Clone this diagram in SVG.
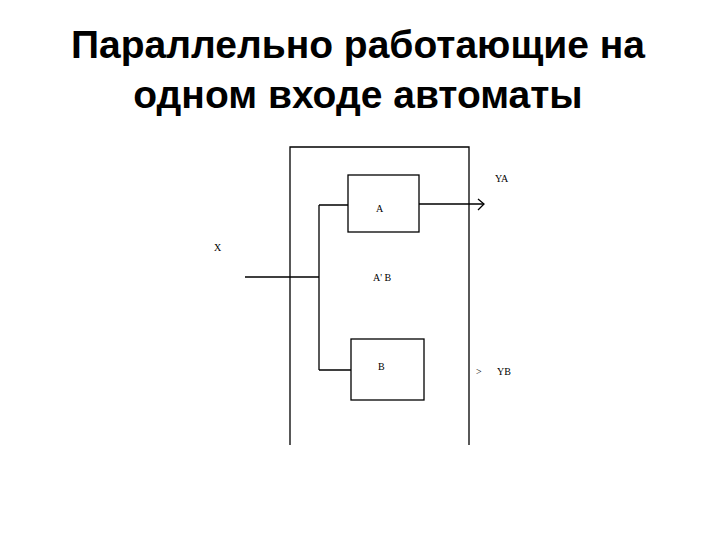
<svg xmlns="http://www.w3.org/2000/svg" width="720" height="540" viewBox="0 0 720 540">
<style>
.t{font-family:"Liberation Sans",Arial,sans-serif;font-size:39px;font-weight:bold;text-anchor:middle}
.s{font-family:"Liberation Serif","Times New Roman",serif;font-size:10px}
.l{stroke:#000;stroke-width:1.3;fill:none}
</style>
<rect width="720" height="540" fill="#fff"/>
<text class="t" x="358" y="58">Параллельно работающие на</text>
<text class="t" x="358" y="108">одном входе автоматы</text>
<g id="frame"><path class="l" d="M290,445 V147 H469 V445"/></g>
<g id="nodeA"><rect class="l" x="348" y="175" width="71" height="57"/><text class="s" x="376" y="212">A</text></g>
<g id="nodeB"><rect class="l" x="351" y="339" width="73" height="61"/><text class="s" x="378" y="370">B</text></g>
<g id="connectors">
<path class="l" d="M245,277 H319 M319,205 V370 M319,205 H348 M319,370 H351 M419,204 H484"/>
<path class="l" d="M478,199 L484,204 L478,210"/>
</g>
<g id="labels">
<text class="s" x="214" y="251">X</text>
<text class="s" x="373" y="281">A' B</text>
<text class="s" x="495" y="182">YA</text>
<text class="s" x="476" y="375">&gt;</text>
<text class="s" x="497" y="375">YB</text>
</g>
</svg>
